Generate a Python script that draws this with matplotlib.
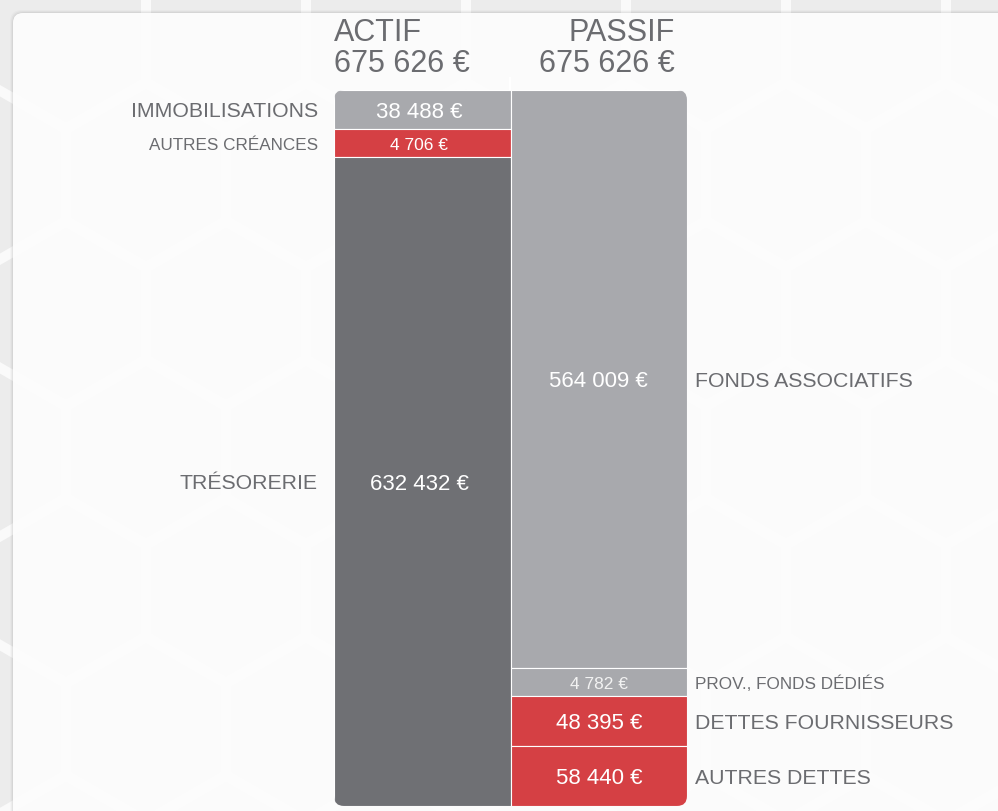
import numpy as np
import matplotlib
matplotlib.use("Agg")
import matplotlib.pyplot as plt
from matplotlib.patches import RegularPolygon, FancyBboxPatch

plt.rcParams['font.family'] = ['Liberation Sans', 'DejaVu Sans']

# ---------------- data ----------------
columns = ["ACTIF", "PASSIF"]
actif_labels = ["IMMOBILISATIONS", "AUTRES CRÉANCES", "TRÉSORERIE"]
actif_values = [38488, 4706, 632432]
passif_labels = ["FONDS ASSOCIATIFS", "PROV., FONDS DÉDIÉS", "DETTES FOURNISSEURS", "AUTRES DETTES"]
passif_values = [564009, 4782, 48395, 58440]

# ---------------- style ----------------
LIGHT = "#a8a9ad"
DARK = "#6f7074"
RED = "#d54044"
TXT = "#6b6c70"
actif_colors = [LIGHT, RED, DARK]
passif_colors = [LIGHT, LIGHT, RED, RED]
MIN_SHARE = 0.039  # minimum displayed share of a segment

W, H = 998, 811
fig = plt.figure(figsize=(W / 100, H / 100), dpi=100)
fig.patch.set_facecolor("#fafafa")

# background (pixel coordinates)
bg = fig.add_axes([0, 0, 1, 1])
bg.set_xlim(0, W)
bg.set_ylim(H, 0)
bg.axis("off")
R = 86.6
dx = 160
dy = dx * np.sqrt(3) / 2
for r in range(-2, 8):
    yc = 175 + r * dy
    x0 = 786 + (80 if r % 2 else 0)
    for k in range(-7, 3):
        bg.add_patch(RegularPolygon((x0 + k * dx, yc), 6, radius=R,
                                    facecolor="#ececec", edgecolor="none", zorder=0))
# card shadow + card
for i, a in enumerate([0.04, 0.03, 0.02]):
    bg.add_patch(FancyBboxPatch((12 - i, 12 - i), 1100, 1000,
                                boxstyle="round,pad=0,rounding_size=12",
                                facecolor="#000000", alpha=a, edgecolor="none", zorder=1))
bg.add_patch(FancyBboxPatch((13, 13), 1100, 1000,
                            boxstyle="round,pad=0,rounding_size=10",
                            facecolor="white", alpha=0.93, edgecolor="none", zorder=2))

# headers
total_actif = sum(actif_values)
total_passif = sum(passif_values)


def fmt(v):
    return f"{v:,}".replace(",", " ") + " €"


bg.text(334, 41, columns[0], ha="left", va="baseline", fontsize=22, color=TXT, zorder=5)
bg.text(334, 72, fmt(total_actif), ha="left", va="baseline", fontsize=22, color=TXT, zorder=5)
bg.text(675, 41, columns[1], ha="right", va="baseline", fontsize=22, color=TXT, zorder=5)
bg.text(675, 72, fmt(total_passif), ha="right", va="baseline", fontsize=22, color=TXT, zorder=5)
bg.plot([510, 510], [78, 92], color="white", lw=1.5, zorder=5)

# bars axes
px_l, px_r, px_t, px_b = 334, 687, 90, 806
ax = fig.add_axes([px_l / W, (H - px_b) / H, (px_r - px_l) / W, (px_b - px_t) / H])
ax.set_facecolor("none")
ax.axis("off")
total = max(total_actif, total_passif)
ax.set_xlim(-0.5, 1.5)
ax.set_ylim(total, 0)

ax_w, ax_h = px_r - px_l, px_b - px_t
clip = FancyBboxPatch((0, 0), 1, 1, boxstyle=f"round,pad=0,rounding_size={10/ax_w}",
                      mutation_aspect=ax_w / ax_h, transform=ax.transAxes,
                      facecolor="none", edgecolor="none")


def display_heights(vals):
    vals = np.array(vals, dtype=float)
    tot = vals.sum()
    small = vals < MIN_SHARE * tot
    h = np.zeros_like(vals)
    h[small] = MIN_SHARE * tot
    rest = tot - h[small].sum()
    h[~small] = vals[~small] / vals[~small].sum() * rest
    return h, small


def cap_px(fs):
    return fs * 100 / 72 * 0.716


for xi, (labels, vals, cols) in enumerate([(actif_labels, actif_values, actif_colors),
                                          (passif_labels, passif_values, passif_colors)]):
    h, small = display_heights(vals)
    bottoms = np.concatenate([[0], np.cumsum(h)[:-1]])
    bars = ax.bar([xi] * len(vals), h, bottom=bottoms, width=1.0, color=cols,
                  edgecolor="white", linewidth=0.8)
    for b in bars:
        b.set_clip_path(clip)
    for lab, v, hh, bt, sm, c in zip(labels, vals, h, bottoms, small, cols):
        yc = bt + hh / 2
        fs_lab = 12.3 if sm else 15.3
        fs_val = 12.5 if sm else 16
        vcol = "#f2f2f2" if (sm and c == LIGHT) else "white"
        ax.annotate(fmt(v), xy=(xi, yc), xytext=(-3 if xi == 0 else 0, -cap_px(fs_val) / 2),
                    textcoords="offset pixels", ha="center", va="baseline",
                    fontsize=fs_val, color=vcol)
        if xi == 0:
            ax.annotate(lab, xy=(-0.5, yc), xytext=(-16, -cap_px(fs_lab) / 2),
                        textcoords="offset pixels", ha="right", va="baseline",
                        fontsize=fs_lab, color=TXT, annotation_clip=False)
        else:
            ax.annotate(lab, xy=(1.5, yc), xytext=(8, -cap_px(fs_lab) / 2),
                        textcoords="offset pixels", ha="left", va="baseline",
                        fontsize=fs_lab, color=TXT, annotation_clip=False)

fig.savefig("out.png", dpi=100, facecolor=fig.get_facecolor())
